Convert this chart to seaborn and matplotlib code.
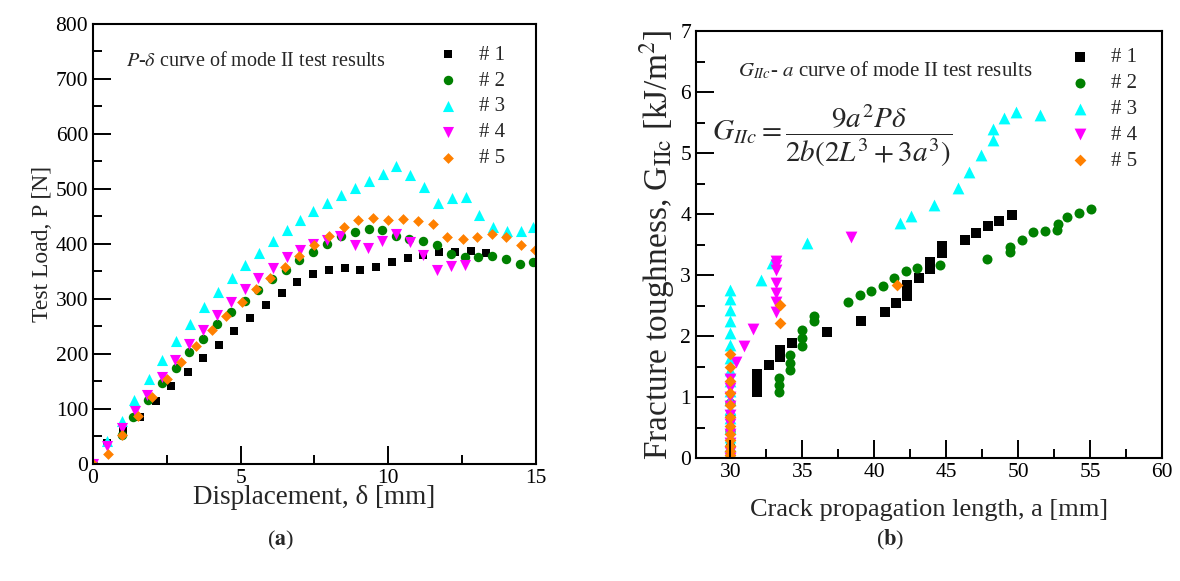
import matplotlib
matplotlib.use("Agg")
import matplotlib.pyplot as plt
from matplotlib.ticker import MultipleLocator
import seaborn as sns

# ---- (a) P-delta curves ----
p_x1 = [0, 0.46, 1.03, 1.59, 2.13, 2.64, 3.21, 3.74, 4.27, 4.79, 5.33, 5.86, 6.39, 6.92, 7.46, 7.99,
        8.52, 9.05, 9.58, 10.11, 10.66, 11.19, 11.72, 12.26, 12.79, 13.31]
p_y1 = [0, 38, 62, 86, 115, 142, 167, 192, 217, 241, 266, 289, 310, 331, 345, 353,
        357, 353, 358, 368, 375, 380, 385, 386, 387, 383]
p_x2 = [0, 0.97, 1.37, 1.87, 2.33, 2.80, 3.26, 3.74, 4.20, 4.69, 5.15, 5.60, 6.05, 6.54, 6.99, 7.46,
        7.94, 8.39, 8.87, 9.35, 9.80, 10.26, 10.71, 11.16, 11.66, 12.11, 12.60, 13.05, 13.52, 13.97, 14.46, 14.91]
p_y2 = [0, 52, 85, 116, 148, 175, 203, 228, 254, 276, 297, 316, 336, 353, 370, 385,
        400, 414, 422, 427, 426, 415, 409, 406, 398, 381, 376, 376, 379, 373, 364, 368]
p_x3 = [0, 0.46, 0.97, 1.40, 1.90, 2.35, 2.81, 3.29, 3.76, 4.22, 4.70, 5.15, 5.63, 6.09, 6.56, 7.01,
        7.46, 7.93, 8.40, 8.87, 9.35, 9.81, 10.26, 10.73, 11.21, 11.68, 12.15, 12.62, 13.07, 13.56, 14.01, 14.48, 14.91]
p_y3 = [0, 41, 79, 116, 154, 189, 224, 255, 286, 313, 339, 362, 384, 405, 425, 444,
        460, 475, 489, 501, 515, 528, 541, 525, 504, 475, 483, 485, 453, 431, 424, 424, 431]
p_x4 = [0, 0.46, 0.97, 1.42, 1.84, 2.33, 2.78, 3.26, 3.74, 4.21, 4.67, 5.15, 5.60, 6.09, 6.56, 7.01,
        7.46, 7.91, 8.37, 8.87, 9.32, 9.80, 10.26, 10.73, 11.19, 11.66, 12.12, 12.60]
p_y4 = [0, 32, 65, 97, 125, 158, 189, 218, 244, 271, 295, 318, 339, 357, 376, 389,
        400, 407, 415, 398, 392, 405, 419, 404, 380, 352, 360, 362]
p_x5 = [0, 0.52, 0.99, 1.51, 1.99, 2.49, 2.98, 3.49, 4.02, 4.50, 5.03, 5.52, 6.00, 6.50, 6.99, 7.48,
        7.99, 8.50, 8.99, 9.49, 10.0, 10.5, 10.99, 11.52, 12.0, 12.52, 13.02, 13.5, 14.0, 14.5, 14.97]
p_y5 = [0, 19, 53, 87, 122, 155, 186, 215, 244, 269, 294, 318, 338, 359, 379, 398,
        415, 430, 444, 447, 444, 445, 442, 436, 413, 409, 412, 419, 413, 398, 389]

# ---- (b) G_IIc - a curves ----
g_x1 = [31.85, 31.85, 31.85, 31.85, 31.85, 32.7, 33.47, 33.47, 33.47, 34.28, 36.7, 39.07, 40.72, 41.5,
        42.3, 42.3, 42.3, 43.08, 43.9, 43.9, 43.9, 44.7, 44.7, 44.7, 46.3, 47.08, 47.9, 48.7, 49.56]
g_y1 = [1.08, 1.15, 1.23, 1.31, 1.38, 1.52, 1.66, 1.72, 1.77, 1.88, 2.06, 2.24, 2.39, 2.54,
        2.66, 2.75, 2.83, 2.95, 3.10, 3.16, 3.22, 3.36, 3.41, 3.47, 3.58, 3.69, 3.80, 3.89, 3.98]
g_x2 = [30, 30, 30, 30, 30, 33.35, 33.35, 33.35, 34.17, 34.17, 34.17, 34.98, 34.98, 34.98, 35.79, 35.79,
        38.17, 38.98, 39.77, 40.6, 41.39, 42.2, 43.0, 44.58, 47.85, 49.44, 49.44, 50.26, 51.06,
        51.88, 52.69, 52.8, 53.42, 54.26, 55.1]
g_y2 = [0, 0.2, 0.45, 0.7, 0.9, 1.09, 1.20, 1.31, 1.45, 1.56, 1.69, 1.84, 1.96, 2.10, 2.24, 2.33,
        2.56, 2.67, 2.73, 2.82, 2.95, 3.07, 3.11, 3.16, 3.27, 3.37, 3.46, 3.57, 3.70,
        3.72, 3.73, 3.84, 3.95, 4.01, 4.09]
g_x3 = [30, 30, 30, 30, 30, 30, 30, 30, 30, 30, 30, 30, 30, 30, 30, 30, 30, 30,
        32.1, 32.9, 35.35, 41.76, 42.55, 44.12, 45.8, 46.6, 47.4, 48.23, 48.23, 49.03, 49.86, 51.5]
g_y3 = [0, 0.1, 0.2, 0.35, 0.5, 0.65, 0.8, 0.95, 1.1, 1.27, 1.45, 1.64, 1.85, 2.05, 2.24, 2.43, 2.6, 2.75,
        2.92, 3.19, 3.52, 3.86, 3.97, 4.14, 4.43, 4.69, 4.97, 5.21, 5.39, 5.57, 5.68, 5.63]
g_x4 = [30, 30, 30, 30, 30, 30, 30, 30, 30, 30, 30.35, 30.97, 31.55,
        33.15, 33.15, 33.15, 33.15, 33.15, 33.15, 33.15, 38.4]
g_y4 = [0, 0.1, 0.25, 0.4, 0.55, 0.7, 0.85, 1.0, 1.15, 1.3, 1.58, 1.83, 2.11,
        2.40, 2.56, 2.71, 2.87, 3.08, 3.17, 3.23, 3.62]
g_x5 = [30, 30, 30, 30, 30, 30, 30, 30, 30, 30, 30, 30, 30, 33.47, 33.47, 41.6]
g_y5 = [0, 0.05, 0.12, 0.2, 0.3, 0.4, 0.52, 0.68, 0.87, 1.07, 1.27, 1.49, 1.71, 2.22, 2.51, 2.84]

labels = ["# 1", "# 2", "# 3", "# 4", "# 5"]
colors = ["#000000", "#008000", "#00FFFF", "#FF00FF", "#FF8000"]
markers = ["s", "o", "^", "v", "D"]

sns.set_style("ticks")
plt.rcParams["font.family"] = ["Liberation Serif", "DejaVu Serif"]
plt.rcParams["mathtext.fontset"] = "stix"

fig = plt.figure(figsize=(11.8, 5.81), dpi=100)
axa = fig.add_axes([0.0788, 0.2014, 0.3754, 0.7573])
axb = fig.add_axes([0.5898, 0.2117, 0.3949, 0.7349])

left_sizes = [5.5, 6.8, 8.0, 8.0, 5.5]
right_sizes = [6.5, 7.2, 8.5, 8.5, 6.0]

pa = [(p_x1, p_y1), (p_x2, p_y2), (p_x3, p_y3), (p_x4, p_y4), (p_x5, p_y5)]
gb = [(g_x1, g_y1), (g_x2, g_y2), (g_x3, g_y3), (g_x4, g_y4), (g_x5, g_y5)]

for i, (xs, ys) in enumerate(pa):
    sns.scatterplot(x=xs, y=ys, ax=axa, marker=markers[i], color=colors[i],
                    s=left_sizes[i] ** 2, linewidth=0, label=labels[i], legend=False)
for i, (xs, ys) in enumerate(gb):
    sns.scatterplot(x=xs, y=ys, ax=axb, marker=markers[i], color=colors[i],
                    s=right_sizes[i] ** 2, linewidth=0, label=labels[i], legend=False)

axa.set_xlim(0, 15)
axa.set_ylim(0, 800)
axa.xaxis.set_major_locator(MultipleLocator(5))
axa.xaxis.set_minor_locator(MultipleLocator(2.5))
axa.yaxis.set_major_locator(MultipleLocator(100))
axa.yaxis.set_minor_locator(MultipleLocator(50))

axb.set_xlim(27.6, 60)
axb.set_ylim(0, 7)
axb.xaxis.set_major_locator(MultipleLocator(5))
axb.xaxis.set_minor_locator(MultipleLocator(2.5))
axb.yaxis.set_major_locator(MultipleLocator(1))
axb.yaxis.set_minor_locator(MultipleLocator(0.5))

for ax in (axa, axb):
    ax.set_axisbelow(False)
    ax.xaxis.set_zorder(3)
    ax.yaxis.set_zorder(3)
    for sp in ax.spines.values():
        sp.set_linewidth(1.5)
        sp.set_color("black")
    ax.tick_params(which="major", direction="in", length=13, width=1.4, color="black",
                   labelsize=15.5, labelcolor="black", top=False, right=False)
    ax.tick_params(which="minor", direction="in", length=6.5, width=1.4, color="black",
                   top=False, right=False)

axa.set_xlabel("Displacement, δ [mm]", fontsize=19.5, labelpad=-2)
axa.set_ylabel("Test Load, P [N]", fontsize=17, labelpad=2)
axa.text(0.075, 0.914, r"$P$-$\delta$ curve of mode II test results", transform=axa.transAxes,
         fontsize=14.5, va="center")
axa.legend(loc="upper left", bbox_to_anchor=(0.744, 0.985), frameon=False, fontsize=15,
           handlelength=1.0, handletextpad=1.0, labelspacing=0.3, borderpad=0.2)

axb.set_xlabel("Crack propagation length, a [mm]", fontsize=19, labelpad=12)
axb.set_ylabel(r"Fracture toughness, G$_{\mathrm{IIc}}$ [kJ/m$^2$]", fontsize=24, labelpad=2)
axb.text(0.09, 0.908, r"$G_{IIc}$- $a$ curve of mode II test results", transform=axb.transAxes,
         fontsize=15, va="center")
axb.text(0.034, 0.755, r"$G_{IIc}=\dfrac{9a^2P\delta}{2b(2L^3+3a^3)}$", transform=axb.transAxes,
         fontsize=21, va="center")
axb.legend(loc="upper left", bbox_to_anchor=(0.77, 0.995), frameon=False, fontsize=15,
           handlelength=1.0, handletextpad=1.0, labelspacing=0.3, borderpad=0.2)

fig.text(0.2375, 0.07, r"($\mathbf{a}$)", fontsize=16, ha="center", va="center")
fig.text(0.754, 0.07, r"($\mathbf{b}$)", fontsize=16, ha="center", va="center")

# make sure the inward tick marks are really drawn
fig.canvas.draw()
for ax in (axa, axb):
    for axis in (ax.xaxis, ax.yaxis):
        for tk, ln in ((axis.get_major_ticks(), 13), (axis.get_minor_ticks(), 6.5)):
            for t in tk:
                t.tick1line.set_visible(True)
                t.tick1line.set_markersize(ln)
                t.tick1line.set_markeredgewidth(1.4)
                t.tick1line.set_color("black")
                t.tick2line.set_visible(False)

fig.savefig("out.png", dpi=100)
